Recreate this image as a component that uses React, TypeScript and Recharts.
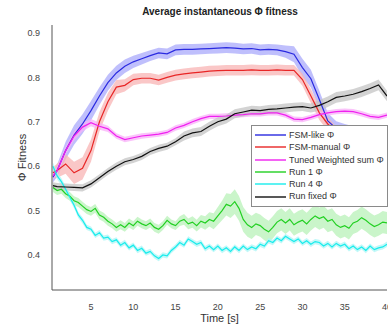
import {
  ComposedChart,
  Line,
  Area,
  XAxis,
  YAxis,
  Label,
} from "recharts";

// coarse time grid (s) for the smoother series
const times = [0.5, 1, 2, 3, 4, 5, 6, 7, 8, 9, 10, 11, 12, 13, 14, 15, 16, 17, 18, 19, 20, 21, 22, 23, 24, 25, 26, 27, 28, 29, 30, 31, 32, 33, 34, 35, 36, 37, 38, 39, 40];

// finer grid (0.5 s) for the noisy runs
const fineTimes = [0.5, 1, 1.5, 2, 2.5, 3, 3.5, 4, 4.5, 5, 5.5, 6, 6.5, 7, 7.5, 8, 8.5, 9, 9.5, 10, 10.5, 11, 11.5, 12, 12.5, 13, 13.5, 14, 14.5, 15, 15.5, 16, 16.5, 17, 17.5, 18, 18.5, 19, 19.5, 20, 20.5, 21, 21.5, 22, 22.5, 23, 23.5, 24, 24.5, 25, 25.5, 26, 26.5, 27, 27.5, 28, 28.5, 29, 29.5, 30, 30.5, 31, 31.5, 32, 32.5, 33, 33.5, 34, 34.5, 35, 35.5, 36, 36.5, 37, 37.5, 38, 38.5, 39, 39.5, 40];

const fsmLike = [0.575, 0.59, 0.635, 0.67, 0.695, 0.725, 0.758, 0.788, 0.81, 0.825, 0.835, 0.842, 0.849, 0.855, 0.853, 0.862, 0.863, 0.863, 0.864, 0.865, 0.866, 0.867, 0.866, 0.864, 0.865, 0.862, 0.863, 0.862, 0.858, 0.852, 0.822, 0.797, 0.75, 0.702, 0.685, 0.68, 0.676, 0.672, 0.668, 0.666, 0.665];
const fsmLikeSpread = [0.012, 0.014, 0.02, 0.022, 0.022, 0.022, 0.02, 0.018, 0.016, 0.015, 0.014, 0.013, 0.012, 0.012, 0.012, 0.012, 0.012, 0.012, 0.012, 0.012, 0.012, 0.012, 0.012, 0.012, 0.012, 0.012, 0.012, 0.012, 0.014, 0.018, 0.02, 0.02, 0.02, 0.018, 0.016, 0.015, 0.014, 0.013, 0.012, 0.012, 0.012];

const fsmManual = [0.585, 0.59, 0.605, 0.585, 0.595, 0.635, 0.7, 0.745, 0.778, 0.782, 0.795, 0.798, 0.798, 0.794, 0.8, 0.805, 0.808, 0.81, 0.812, 0.814, 0.815, 0.816, 0.816, 0.816, 0.817, 0.816, 0.816, 0.817, 0.816, 0.816, 0.795, 0.758, 0.72, 0.695, 0.675, 0.665, 0.662, 0.66, 0.66, 0.66, 0.66];
const fsmManualSpread = [0.012, 0.016, 0.022, 0.025, 0.025, 0.025, 0.022, 0.02, 0.016, 0.014, 0.013, 0.012, 0.012, 0.012, 0.012, 0.012, 0.012, 0.012, 0.012, 0.012, 0.012, 0.012, 0.012, 0.012, 0.012, 0.012, 0.012, 0.012, 0.012, 0.012, 0.014, 0.016, 0.016, 0.015, 0.014, 0.013, 0.012, 0.012, 0.012, 0.012, 0.012];

const tunedSum = [0.578, 0.59, 0.635, 0.668, 0.688, 0.698, 0.69, 0.684, 0.668, 0.66, 0.664, 0.668, 0.67, 0.672, 0.676, 0.686, 0.692, 0.7, 0.707, 0.712, 0.712, 0.713, 0.715, 0.716, 0.718, 0.718, 0.72, 0.72, 0.715, 0.706, 0.705, 0.71, 0.716, 0.72, 0.723, 0.724, 0.723, 0.718, 0.712, 0.71, 0.715];
const tunedSumSpread = [0.008, 0.01, 0.01, 0.01, 0.01, 0.008, 0.008, 0.007, 0.006, 0.006, 0.006, 0.006, 0.006, 0.006, 0.006, 0.006, 0.006, 0.006, 0.006, 0.006, 0.006, 0.006, 0.006, 0.006, 0.006, 0.006, 0.006, 0.006, 0.006, 0.006, 0.006, 0.006, 0.006, 0.006, 0.006, 0.006, 0.006, 0.006, 0.006, 0.006, 0.006];

const runFixed = [0.556, 0.554, 0.553, 0.552, 0.551, 0.56, 0.574, 0.588, 0.6, 0.61, 0.615, 0.622, 0.633, 0.64, 0.645, 0.655, 0.668, 0.675, 0.678, 0.69, 0.7, 0.706, 0.718, 0.722, 0.726, 0.725, 0.728, 0.729, 0.731, 0.733, 0.734, 0.731, 0.737, 0.745, 0.755, 0.758, 0.762, 0.768, 0.775, 0.783, 0.758];
const runFixedSpread = [0.008, 0.008, 0.008, 0.008, 0.008, 0.008, 0.008, 0.008, 0.008, 0.008, 0.008, 0.008, 0.008, 0.008, 0.008, 0.008, 0.01, 0.01, 0.01, 0.01, 0.01, 0.01, 0.01, 0.01, 0.01, 0.01, 0.01, 0.01, 0.01, 0.01, 0.01, 0.01, 0.012, 0.012, 0.012, 0.012, 0.012, 0.012, 0.012, 0.012, 0.012];

const run1 = [0.552, 0.545, 0.548, 0.538, 0.532, 0.522, 0.518, 0.51, 0.502, 0.498, 0.505, 0.49, 0.485, 0.476, 0.47, 0.462, 0.468, 0.462, 0.472, 0.466, 0.476, 0.47, 0.466, 0.472, 0.462, 0.458, 0.466, 0.478, 0.47, 0.466, 0.476, 0.48, 0.47, 0.474, 0.466, 0.476, 0.472, 0.48, 0.476, 0.488, 0.5, 0.514, 0.51, 0.52, 0.505, 0.48, 0.468, 0.462, 0.47, 0.466, 0.458, 0.452, 0.462, 0.474, 0.48, 0.472, 0.48, 0.468, 0.474, 0.478, 0.47, 0.48, 0.488, 0.482, 0.486, 0.476, 0.48, 0.468, 0.462, 0.466, 0.46, 0.472, 0.476, 0.484, 0.478, 0.47, 0.464, 0.468, 0.474, 0.472];
const run1Spread = [0.01, 0.01, 0.01, 0.01, 0.01, 0.01, 0.01, 0.01, 0.01, 0.01, 0.01, 0.01, 0.01, 0.01, 0.01, 0.01, 0.01, 0.01, 0.01, 0.01, 0.01, 0.01, 0.01, 0.01, 0.01, 0.01, 0.01, 0.01, 0.01, 0.01, 0.011, 0.012, 0.012, 0.013, 0.013, 0.014, 0.015, 0.016, 0.018, 0.02, 0.022, 0.025, 0.027, 0.028, 0.028, 0.028, 0.027, 0.026, 0.025, 0.025, 0.025, 0.025, 0.025, 0.025, 0.025, 0.025, 0.025, 0.025, 0.025, 0.025, 0.025, 0.025, 0.025, 0.025, 0.025, 0.025, 0.025, 0.025, 0.025, 0.025, 0.025, 0.025, 0.025, 0.025, 0.025, 0.025, 0.025, 0.025, 0.025, 0.025];

const run4 = [0.6, 0.578, 0.565, 0.548, 0.53, 0.512, 0.49, 0.478, 0.462, 0.458, 0.444, 0.45, 0.438, 0.44, 0.43, 0.434, 0.422, 0.428, 0.416, 0.422, 0.41, 0.415, 0.404, 0.408, 0.398, 0.392, 0.4, 0.398, 0.41, 0.418, 0.428, 0.422, 0.436, 0.43, 0.424, 0.428, 0.414, 0.42, 0.412, 0.42, 0.41, 0.416, 0.408, 0.418, 0.41, 0.42, 0.412, 0.418, 0.414, 0.424, 0.42, 0.432, 0.428, 0.438, 0.432, 0.442, 0.436, 0.43, 0.436, 0.426, 0.432, 0.424, 0.43, 0.428, 0.42, 0.426, 0.418, 0.426, 0.42, 0.424, 0.414, 0.42, 0.412, 0.418, 0.41, 0.42, 0.412, 0.416, 0.418, 0.424];
const run4Spread = [0.008, 0.008, 0.008, 0.008, 0.007, 0.007, 0.007, 0.007, 0.006, 0.006, 0.006, 0.006, 0.006, 0.006, 0.006, 0.006, 0.006, 0.006, 0.006, 0.006, 0.006, 0.006, 0.006, 0.006, 0.006, 0.006, 0.006, 0.006, 0.006, 0.006, 0.006, 0.006, 0.006, 0.006, 0.006, 0.006, 0.006, 0.006, 0.006, 0.006, 0.006, 0.006, 0.006, 0.006, 0.006, 0.006, 0.006, 0.006, 0.006, 0.006, 0.006, 0.006, 0.006, 0.006, 0.006, 0.006, 0.006, 0.006, 0.006, 0.006, 0.006, 0.006, 0.006, 0.006, 0.006, 0.006, 0.006, 0.006, 0.006, 0.006, 0.006, 0.006, 0.006, 0.006, 0.006, 0.006, 0.006, 0.006, 0.006, 0.006];

const xTicks = [5, 10, 15, 20, 25, 30, 35, 40];
const yTicks = [0.4, 0.5, 0.6, 0.7, 0.8, 0.9];

const series = [
  { key: "fsmLike", name: "FSM-like Φ", t: times, values: fsmLike, spread: fsmLikeSpread, color: "#2a2ae0", band: "#a9a9fb" },
  { key: "fsmManual", name: "FSM-manual Φ", t: times, values: fsmManual, spread: fsmManualSpread, color: "#e82626", band: "#f8b4b4" },
  { key: "tunedSum", name: "Tuned Weighted sum Φ", t: times, values: tunedSum, spread: tunedSumSpread, color: "#f020f0", band: "#f8b0f8" },
  { key: "run1", name: "Run 1 Φ", t: fineTimes, values: run1, spread: run1Spread, color: "#22d022", band: "#b8f2b8" },
  { key: "run4", name: "Run 4 Φ", t: fineTimes, values: run4, spread: run4Spread, color: "#18ecec", band: "#aef6f6" },
  { key: "runFixed", name: "Run fixed Φ", t: times, values: runFixed, spread: runFixedSpread, color: "#111111", band: "#c4c4c4" },
];

const seriesData = series.map((s) =>
  s.t.map((t, i) => ({
    t,
    v: s.values[i],
    band: [s.values[i] - s.spread[i], s.values[i] + s.spread[i]],
  }))
);

const font = "'Liberation Sans', Arial, sans-serif";

function LegendBox() {
  return (
    <div
      style={{
        position: "absolute",
        top: 125,
        left: 251,
        width: 137,
        boxSizing: "border-box",
        background: "#fff",
        border: "1px solid #8a8a8a",
        padding: "3px 0 3px 3px",
        fontFamily: font,
        fontSize: 9,
        color: "#333",
        lineHeight: "12.3px",
        whiteSpace: "nowrap",
      }}
    >
      {series.map((s) => (
        <div key={s.key} style={{ display: "flex", alignItems: "center" }}>
          <svg width={31} height={4} style={{ marginRight: 3 }}>
            <line x1={0} y1={2} x2={31} y2={2} stroke={s.color} strokeWidth={1.4} />
          </svg>
          <span>{s.name}</span>
        </div>
      ))}
    </div>
  );
}

export default function App() {
  return (
    <div style={{ position: "fixed", left: 0, top: 0, width: 388, height: 325, overflow: "hidden", background: "#fff" }}>
      <div
        style={{
          position: "absolute",
          top: 6,
          left: 52,
          width: 336,
          textAlign: "center",
          fontFamily: font,
          fontWeight: "bold",
          fontSize: 10,
          color: "#222",
        }}
      >
        Average instantaneous Φ fitness
      </div>
      <ComposedChart width={400} height={325} margin={{ top: 25, right: 13, left: 0, bottom: 0 }}>
        <XAxis
          dataKey="t"
          type="number"
          domain={[0.39, 40]}
          ticks={xTicks}
          allowDataOverflow
          height={35}
          tickLine={false}
          tickMargin={8}
          stroke="#555"
          tick={{ fill: "#444", fontSize: 9, fontFamily: font }}
        >
          <Label value="Time [s]" position="insideBottom" offset={3} style={{ fill: "#333", fontSize: 11, fontFamily: font }} />
        </XAxis>
        <YAxis
          type="number"
          domain={[0.321, 0.918]}
          ticks={yTicks}
          allowDataOverflow
          width={52}
          tickLine={false}
          tickMargin={6}
          stroke="#555"
          tickFormatter={(v: number) => v.toFixed(1)}
          tick={{ fill: "#444", fontSize: 9, fontFamily: font }}
        >
          <Label
            content={({ viewBox }: any) => {
              const cx = 22;
              const cy = viewBox.y + viewBox.height / 2;
              return (
                <text x={cx} y={cy} transform={`rotate(-90 ${cx} ${cy})`} textAnchor="middle" dominantBaseline="central" fill="#333" fontSize={11} fontFamily={font}>
                  Φ Fitness
                </text>
              );
            }}
          />
        </YAxis>
        {series.map((s, k) => (
          <Area
            key={s.key + "Band"}
            data={seriesData[k]}
            dataKey="band"
            type="linear"
            stroke="none"
            fill={s.band}
            fillOpacity={0.75}
            isAnimationActive={false}
            legendType="none"
          />
        ))}
        {series.map((s, k) => (
          <Line
            key={s.key}
            data={seriesData[k]}
            dataKey="v"
            name={s.name}
            type="linear"
            stroke={s.color}
            strokeWidth={1.2}
            dot={false}
            isAnimationActive={false}
          />
        ))}
      </ComposedChart>
      <LegendBox />
    </div>
  );
}
